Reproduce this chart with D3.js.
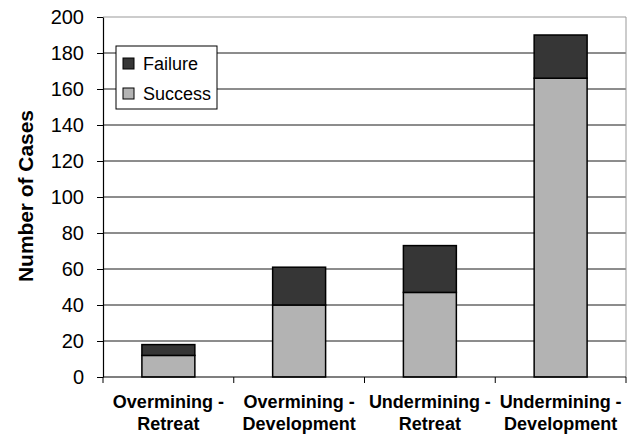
<!DOCTYPE html>
<html>
<head>
<meta charset="utf-8">
<script src="https://cdn.jsdelivr.net/npm/d3@7"></script>
<style>
  html, body { margin: 0; padding: 0; background: #fff; }
  svg { display: block; font-family: "Liberation Sans", Arial, sans-serif; }
</style>
</head>
<body>
<svg id="chart" width="635" height="434"></svg>
<script>
const categories = ["Overmining - Retreat", "Overmining - Development", "Undermining - Retreat", "Undermining - Development"];
const categoryLines = [["Overmining -", "Retreat"], ["Overmining -", "Development"], ["Undermining -", "Retreat"], ["Undermining -", "Development"]];
const successValues = [12, 40, 47, 166];
const failureValues = [6, 21, 26, 24];
const seriesNames = ["Success", "Failure"];
const yTicks = [0, 20, 40, 60, 80, 100, 120, 140, 160, 180, 200];
const yTitle = "Number of Cases";

const W = 635, H = 434;
const margin = { left: 103, right: 9, top: 17, bottom: 57 };
const svg = d3.select("#chart");

const rows = categories.map((c, i) => ({ cat: c, Success: successValues[i], Failure: failureValues[i] }));

const x = d3.scaleBand().domain(categories)
  .range([margin.left, W - margin.right])
  .paddingInner(0.595).paddingOuter(0.2975);
const y = d3.scaleLinear().domain([0, 200]).range([H - margin.bottom, margin.top]);

const colors = { Success: "#b3b3b3", Failure: "#363636" };

// gridlines
svg.append("g").selectAll("line")
  .data(yTicks.filter(t => t > 0 && t < 200))
  .join("line")
  .attr("x1", margin.left).attr("x2", W - margin.right)
  .attr("y1", d => y(d)).attr("y2", d => y(d))
  .attr("stroke", "#1a1a1a").attr("stroke-width", 1);

// plot border (top & right)
svg.append("line")
  .attr("x1", margin.left).attr("x2", W - margin.right)
  .attr("y1", y(200)).attr("y2", y(200))
  .attr("stroke", "#999").attr("stroke-width", 1);
svg.append("line")
  .attr("x1", W - margin.right).attr("x2", W - margin.right)
  .attr("y1", y(200)).attr("y2", y(0))
  .attr("stroke", "#999").attr("stroke-width", 1);

// stacked bars
const stack = d3.stack().keys(seriesNames)(rows);
svg.append("g").selectAll("g")
  .data(stack)
  .join("g")
  .attr("fill", d => colors[d.key])
  .selectAll("rect")
  .data(d => d)
  .join("rect")
  .attr("x", d => x(d.data.cat))
  .attr("width", x.bandwidth())
  .attr("y", d => y(d[1]))
  .attr("height", d => y(d[0]) - y(d[1]))
  .attr("stroke", "#000").attr("stroke-width", 1.5);

// y axis
const yAxis = svg.append("g")
  .attr("transform", `translate(${margin.left},0)`)
  .call(d3.axisLeft(y).tickValues(yTicks).tickSize(6).tickPadding(13).tickSizeOuter(0));
yAxis.select(".domain").attr("stroke", "#000").attr("stroke-width", 1.2);
yAxis.selectAll(".tick line").attr("stroke", "#000");
yAxis.selectAll(".tick text")
  .attr("font-size", 20).attr("fill", "#000")
  .attr("font-family", "'Liberation Sans', Arial, sans-serif");

// x axis line
svg.append("line")
  .attr("x1", margin.left).attr("x2", W - margin.right)
  .attr("y1", y(0)).attr("y2", y(0))
  .attr("stroke", "#000").attr("stroke-width", 1.2);

// x tick marks at category boundaries
const step = x.step();
const boundaries = categories.map(c => x(c) - step * x.paddingInner() / 2);
boundaries.push(x(categories[categories.length - 1]) + x.bandwidth() + step * x.paddingInner() / 2);
svg.append("g").selectAll("line")
  .data(boundaries)
  .join("line")
  .attr("x1", d => d).attr("x2", d => d)
  .attr("y1", y(0)).attr("y2", y(0) + 6)
  .attr("stroke", "#000").attr("stroke-width", 1);

// x labels
const xl = svg.append("g").selectAll("text")
  .data(categories)
  .join("text")
  .attr("x", d => x(d) + x.bandwidth() / 2)
  .attr("y", y(0) + 31)
  .attr("text-anchor", "middle")
  .attr("font-size", 18).attr("font-weight", "bold").attr("fill", "#000");
xl.selectAll("tspan")
  .data((d, i) => categoryLines[i])
  .join("tspan")
  .attr("x", function () { return d3.select(this.parentNode).attr("x"); })
  .attr("dy", (d, i) => i === 0 ? 0 : 21.5)
  .text(d => d);

// y title
svg.append("text")
  .attr("transform", `translate(33,196) rotate(-90)`)
  .attr("text-anchor", "middle")
  .attr("font-size", 19.5).attr("font-weight", "bold").attr("fill", "#000")
  .attr("textLength", 172).attr("lengthAdjust", "spacingAndGlyphs")
  .text(yTitle);

// legend
const lg = svg.append("g").attr("transform", "translate(116,46)");
lg.append("rect").attr("width", 101).attr("height", 63)
  .attr("fill", "#fff").attr("stroke", "#000").attr("stroke-width", 1);
const legendItems = ["Failure", "Success"];
legendItems.forEach((k, i) => {
  const g = lg.append("g").attr("transform", `translate(7,${12 + i * 30})`);
  g.append("rect").attr("width", 11).attr("height", 11)
    .attr("fill", colors[k]).attr("stroke", "#000").attr("stroke-width", 1);
  g.append("text").attr("x", 20).attr("y", 11.5)
    .attr("font-size", 18).attr("fill", "#000").text(k);
});
</script>
</body>
</html>
